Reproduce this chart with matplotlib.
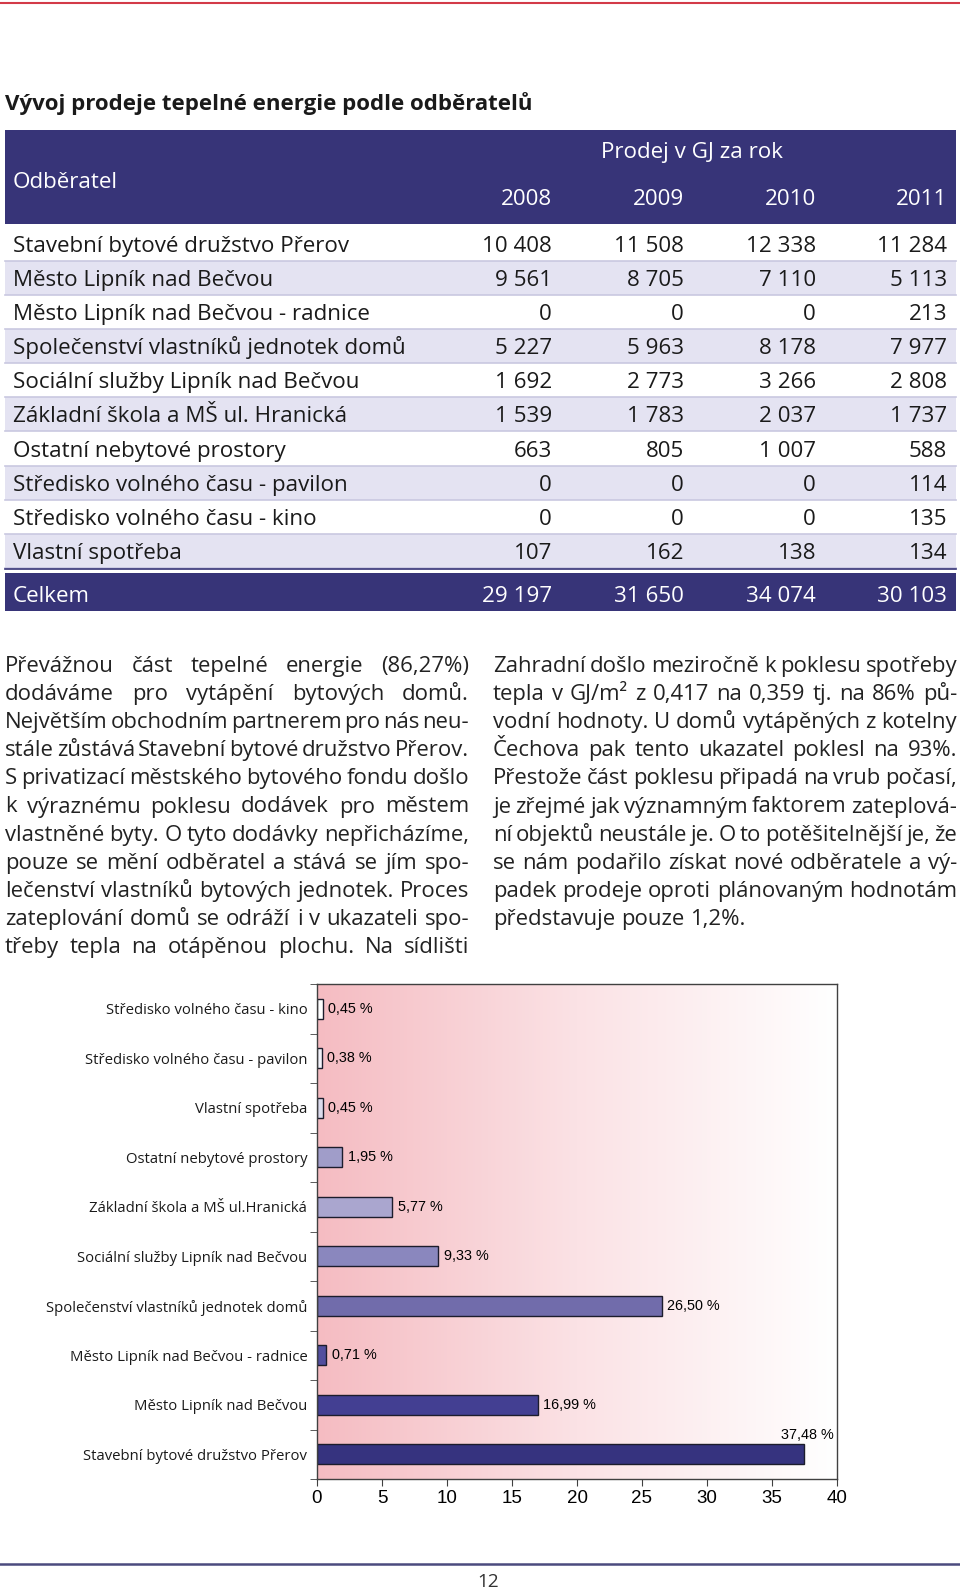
import matplotlib
matplotlib.use("Agg")
import matplotlib.pyplot as plt
import numpy as np
from matplotlib import font_manager
from matplotlib.colors import LinearSegmentedColormap
from matplotlib.patches import Rectangle

# --- page size (px) ---
W, H = 960, 1591
DPI = 100

# --- DATA ---
title = "Vývoj prodeje tepelné energie podle odběratelů"
header_group = "Prodej v GJ za rok"
header_first = "Odběratel"
years = ["2008", "2009", "2010", "2011"]
consumers = [
    "Stavební bytové družstvo Přerov",
    "Město Lipník nad Bečvou",
    "Město Lipník nad Bečvou - radnice",
    "Společenství vlastníků jednotek domů",
    "Sociální služby Lipník nad Bečvou",
    "Základní škola a MŠ ul. Hranická",
    "Ostatní nebytové prostory",
    "Středisko volného času - pavilon",
    "Středisko volného času - kino",
    "Vlastní spotřeba",
]
sales_2008 = [10408, 9561, 0, 5227, 1692, 1539, 663, 0, 0, 107]
sales_2009 = [11508, 8705, 0, 5963, 2773, 1783, 805, 0, 0, 162]
sales_2010 = [12338, 7110, 0, 8178, 3266, 2037, 1007, 0, 0, 138]
sales_2011 = [11284, 5113, 213, 7977, 2808, 1737, 588, 114, 135, 134]
total_label = "Celkem"
totals = [29197, 31650, 34074, 30103]  # as printed in the table

# chart, top to bottom
chart_labels = [
    "Středisko volného času - kino",
    "Středisko volného času - pavilon",
    "Vlastní spotřeba",
    "Ostatní nebytové prostory",
    "Základní škola a MŠ ul.Hranická",
    "Sociální služby Lipník nad Bečvou",
    "Společenství vlastníků jednotek domů",
    "Město Lipník nad Bečvou - radnice",
    "Město Lipník nad Bečvou",
    "Stavební bytové družstvo Přerov",
]
chart_shares = [0.45, 0.38, 0.45, 1.95, 5.77, 9.33, 26.50, 0.71, 16.99, 37.48]
x_ticks = [0, 5, 10, 15, 20, 25, 30, 35, 40]

left_lines = [
    "Převážnou část tepelné energie (86,27%)",
    "dodáváme pro vytápění bytových domů.",
    "Největším obchodním partnerem pro nás neu-",
    "stále zůstává Stavební bytové družstvo Přerov.",
    "S privatizací městského bytového fondu došlo",
    "k výraznému poklesu dodávek pro městem",
    "vlastněné byty. O tyto dodávky nepřicházíme,",
    "pouze se mění odběratel a stává se jím spo-",
    "lečenství vlastníků bytových jednotek. Proces",
    "zateplování domů se odráží i v ukazateli spo-",
    "třeby tepla na otápěnou plochu. Na sídlišti",
]
right_lines = [
    "Zahradní došlo meziročně k poklesu spotřeby",
    "tepla v GJ/m² z 0,417 na 0,359 tj. na 86% pů-",
    "vodní hodnoty. U domů vytápěných z kotelny",
    "Čechova pak tento ukazatel poklesl na 93%.",
    "Přestože část poklesu připadá na vrub počasí,",
    "je zřejmé jak významným faktorem zateplová-",
    "ní objektů neustále je. O to potěšitelnější je, že",
    "se nám podařilo získat nové odběratele a vý-",
    "padek prodeje oproti plánovaným hodnotám",
    "představuje pouze 1,2%.",
]
page_number = "12"

# --- STYLE ---
NAVY = "#373478"
ROW_SHADE = "#e4e3f2"
ROW_LINE = "#c9c8e0"
bar_colors = ["#ffffff", "#f3f3fa", "#dcdcee", "#a09dc9", "#aaa6cf",
              "#8a87be", "#716cab", "#524e9e", "#433f92", "#36337f"]

available = {f.name for f in font_manager.fontManager.ttflist}


def pick(*names):
    for n in names:
        if n in available:
            return n
    return "DejaVu Sans"


FONT = pick("Open Sans", "Noto Sans")
ARIAL = pick("Liberation Sans", "DejaVu Sans")


def fmt(n):
    return f"{n:,}".replace(",", " ")


def main():
    fig = plt.figure(figsize=(W / DPI, H / DPI), dpi=DPI)
    page = fig.add_axes([0, 0, 1, 1])
    page.set_xlim(0, W)
    page.set_ylim(H, 0)
    page.axis("off")
    renderer = fig.canvas.get_renderer()

    def width(s, size, **kw):
        t = page.text(0, 0, s, fontsize=size, **kw)
        w = t.get_window_extent(renderer).width
        t.remove()
        return w

    def fit(s, target, **kw):
        return 12 * target / width(s, 12, **kw)

    def px(size):
        return size * DPI / 72

    # top and bottom rules
    page.plot([0, W], [3, 3], color="#d33a48", lw=1.5)
    page.plot([0, W], [1564, 1564], color="#4b4a7e", lw=1.8)

    # title
    ts = fit(title, 527, family=FONT, weight="bold")
    page.text(5, 102 + 0.36 * px(ts), title, fontsize=ts, family=FONT,
              weight="bold", color="#1a1a1a", va="baseline")

    # --- table ---
    x0, x1 = 5, 956
    col_x = [552, 684, 816, 947]
    tsz = fit(consumers[0], 334, family=FONT)
    off = 0.36 * px(tsz)
    page.add_patch(Rectangle((x0, 130), x1 - x0, 94, color=NAVY, lw=0))
    page.text(692, 150 + off, header_group, fontsize=tsz, family=FONT,
              color="white", ha="center", va="baseline")
    page.text(13, 180 + off, header_first, fontsize=tsz, family=FONT,
              color="white", va="baseline")
    for x, yr in zip(col_x, years):
        page.text(x, 197 + off, yr, fontsize=tsz, family=FONT,
                  color="white", ha="right", va="baseline")

    row_h = 34.16
    top0 = 226.5
    cols = [sales_2008, sales_2009, sales_2010, sales_2011]
    for i, name in enumerate(consumers):
        top = top0 + i * row_h
        if i % 2 == 1:
            page.add_patch(Rectangle((x0, top), x1 - x0, row_h, color=ROW_SHADE, lw=0))
        page.plot([x0, x1], [top + row_h] * 2, color=ROW_LINE, lw=1.2)
        yc = top + row_h / 2 + off
        page.text(13, yc, name, fontsize=tsz, family=FONT,
                  color="#1a1a1a", va="baseline")
        for x, col in zip(col_x, cols):
            page.text(x, yc, fmt(col[i]), fontsize=tsz, family=FONT,
                      color="#1a1a1a", ha="right", va="baseline")

    page.plot([x0, x1], [569, 569], color=NAVY, lw=1.2)
    page.add_patch(Rectangle((x0, 573), x1 - x0, 38, color=NAVY, lw=0))
    page.text(13, 594 + off, total_label, fontsize=tsz, family=FONT,
              color="white", va="baseline")
    for x, tot in zip(col_x, totals):
        page.text(x, 594 + off, fmt(tot), fontsize=tsz, family=FONT,
                  color="white", ha="right", va="baseline")

    # --- justified text columns ---
    cw = 464
    sp12 = width("a a", 12, family=FONT) - width("aa", 12, family=FONT)
    sizes = []
    for line in left_lines + right_lines[:-1]:
        words = line.split(" ")
        ww = sum(width(w_, 12, family=FONT) for w_ in words)
        sizes.append(12 * cw / (ww + (len(words) - 1) * sp12 * 0.6))
    bsz = min(sizes)

    def paragraph(lines, xl, base0, justify_last):
        sp = sp12 * bsz / 12
        for k, line in enumerate(lines):
            words = line.split(" ")
            ws = [width(w_, bsz, family=FONT) for w_ in words]
            last = k == len(lines) - 1 and not justify_last
            gap = sp if last else (cw - sum(ws)) / (len(words) - 1)
            x = xl
            for w_, wv in zip(words, ws):
                page.text(x, base0 + k * 28.1, w_, fontsize=bsz, family=FONT,
                          color="#222222", va="baseline")
                x += wv + gap

    paragraph(left_lines, 5, 672, True)
    paragraph(right_lines, 493, 672, False)

    # page number
    psz = tsz * 0.85
    page.text(488, 1580 + 0.36 * px(psz), page_number, fontsize=psz,
              family=FONT, color="#333333", ha="center", va="baseline")

    # --- bar chart ---
    ax = fig.add_axes([317 / W, 1 - 1479 / H, (837 - 317) / W, (1479 - 984) / H])
    cmap = LinearSegmentedColormap.from_list("bg", ["#f5bcc2", "#fbe2e5", "#ffffff"])
    ax.imshow(np.linspace(0, 1, 256).reshape(1, -1), cmap=cmap,
              extent=[0, 40, 9.5, -0.5], aspect="auto", zorder=0)
    ypos = np.arange(len(chart_labels))
    ax.barh(ypos, chart_shares, height=0.41, color=bar_colors,
            edgecolor="#1c1c2c", linewidth=1, zorder=2)
    ax.set_xlim(0, 40)
    ax.set_ylim(9.5, -0.5)

    lsz = fit(chart_labels[6], 261, family=FONT)
    vsz = fit("16,99 %", 53, family=ARIAL)
    ax.set_yticks(ypos)
    ax.set_yticklabels(chart_labels, fontsize=lsz, family=FONT, color="#1a1a1a")
    ax.set_yticks(np.arange(-0.5, 10, 1), minor=True)
    ax.tick_params(axis="y", which="major", length=0, pad=7)
    ax.tick_params(axis="y", which="minor", length=5, direction="out", color="#404040")
    ax.set_xticks(x_ticks)
    ax.set_xticklabels([str(t) for t in x_ticks], fontsize=vsz * 1.3, family=ARIAL)
    ax.tick_params(axis="x", length=5, direction="out", pad=3, color="#404040")
    for s in ax.spines.values():
        s.set_color("#404040")
        s.set_linewidth(1)

    for y, v in zip(ypos, chart_shares):
        lab = f"{v:.2f}".replace(".", ",") + " %"
        if v > 35:
            ax.annotate(lab, (40, y - 0.22), xytext=(-2, 1), textcoords="offset points",
                        ha="right", va="bottom", fontsize=vsz, family=ARIAL, zorder=3)
        else:
            ax.annotate(lab, (v, y), xytext=(4, 0), textcoords="offset points",
                        ha="left", va="center", fontsize=vsz, family=ARIAL, zorder=3)

    fig.savefig("out.png", dpi=DPI)


if __name__ == "__main__":
    main()
